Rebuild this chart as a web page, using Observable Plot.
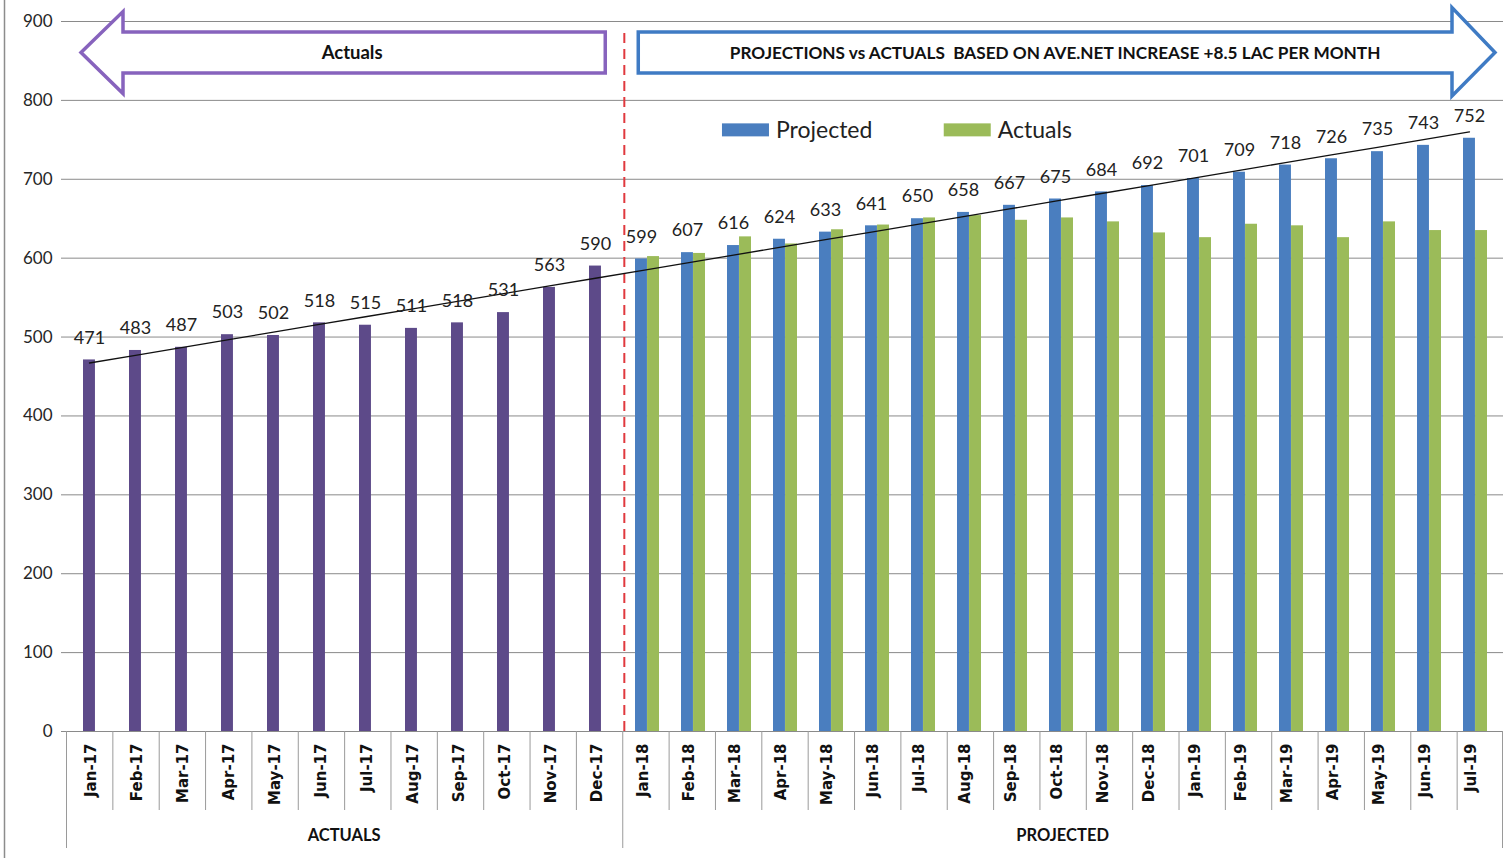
<!DOCTYPE html>
<html><head><meta charset="utf-8">
<script src="https://cdn.jsdelivr.net/npm/d3@7"></script>
<script src="https://cdn.jsdelivr.net/npm/@observablehq/plot@0.6"></script>
<style>
body{margin:0;background:#fff;}
#wrap{position:relative;width:1503px;height:858px;overflow:hidden;}
</style></head><body><div id="wrap"></div>
<script>
// ---- data ----
const actualMonths = ["Jan-17","Feb-17","Mar-17","Apr-17","May-17","Jun-17","Jul-17","Aug-17","Sep-17","Oct-17","Nov-17","Dec-17"];
const actualValues = [471,483,487,503,502,518,515,511,518,531,563,590];
const projMonths = ["Jan-18","Feb-18","Mar-18","Apr-18","May-18","Jun-18","Jul-18","Aug-18","Sep-18","Oct-18","Nov-18","Dec-18","Jan-19","Feb-19","Mar-19","Apr-19","May-19","Jun-19","Jul-19"];
const projectedValues = [599,607,616,624,633,641,650,658,667,675,684,692,701,709,718,726,735,743,752];
const projActualValues = [602,606,627,618,636,642,651,654,648,651,646,632,626,643,641,626,646,635,635];
const yTicks = [0,100,200,300,400,500,600,700,800,900];
const groupLabels = ["ACTUALS","PROJECTED"];
const arrowTexts = ["Actuals","PROJECTIONS vs ACTUALS  BASED ON AVE.NET INCREASE +8.5 LAC PER MONTH"];
const legendLabels = ["Projected","Actuals"];

// ---- colours ----
const cPurple = "#5d4a89", cBlue = "#4a7ebf", cGreen = "#9bbb59";

// ---- derived tables ----
const months = actualMonths.concat(projMonths);
const purple = actualMonths.map((m,i)=>({month:m, value:actualValues[i]}));
const blue = projMonths.map((m,i)=>({month:m, value:projectedValues[i]}));
const green = projMonths.map((m,i)=>({month:m, value:projActualValues[i]}));
const series = actualValues.concat(projectedValues);
const n = series.length, mx = (n-1)/2, my = d3.mean(series);
const slope = d3.sum(series,(v,i)=>(i-mx)*(v-my)) / d3.sum(series,(v,i)=>(i-mx)**2);
const trend = months.map((m,i)=>({month:m, value: my + slope*(i-mx)}));

const W=1503, H=858, ML=66, MR=0, MT=21, MB=127;
const step = (W-ML-MR)/months.length;
const bw = step*0.52;
const labelFont = "Lato, 'Open Sans', sans-serif";

const chart = Plot.plot({
  width:W, height:H, marginLeft:ML, marginRight:MR, marginTop:MT, marginBottom:MB,
  style:{fontFamily:labelFont, background:"transparent", overflow:"visible"},
  x:{domain:months, paddingInner:0.48, paddingOuter:0.24, axis:null, label:null},
  y:{domain:[0,900], axis:null, label:null},
  marks:[
    Plot.ruleY(yTicks, {stroke:"#8a8a8a", strokeWidth:1, insetLeft:-5}),
    Plot.text(yTicks, {y:d=>d, text:d=>String(d), frameAnchor:"left", textAnchor:"end", dx:-14, fontSize:17, fill:"#262626"}),
    Plot.barY(purple, {x:"month", y:"value", fill:cPurple, insetRight:bw/2}),
    Plot.barY(blue, {x:"month", y:"value", fill:cBlue, insetRight:bw/2}),
    Plot.barY(green, {x:"month", y:"value", fill:cGreen, insetLeft:bw/2}),
    Plot.ruleX(["Jan-18"], {x:d=>d, y1:0, y2:889, dx:-step/2, stroke:"#e0393e", strokeWidth:2, strokeDasharray:"10,6"}),
    Plot.line(trend, {x:"month", y:"value", dx:-bw/4, stroke:"#111", strokeWidth:1.3}),
    Plot.text(purple, {x:"month", y:"value", text:d=>String(d.value), dx:-bw/4, dy:-22, fontSize:18, fill:"#222"}),
    Plot.text(blue, {x:"month", y:"value", text:d=>String(d.value), dx:-bw/4, dy:-22, fontSize:18, fill:"#222"}),
    Plot.text(months, {x:d=>d, text:d=>d, frameAnchor:"bottom", rotate:-90, textAnchor:"end", dy:12,
      fontSize:15, fontWeight:"bold", fontFamily:"'DejaVu Sans', Verdana, sans-serif", fill:"#111"})
  ]
});
document.getElementById("wrap").appendChild(chart);

// ---- annotations drawn with the plot's own scales ----
const svg = d3.select(chart);
const sx = chart.scale("x"), sy = chart.scale("y");
const [r0, r1] = sx.range;
const st = (r1 - r0) / months.length;
const boundary = i => r0 + i*st;
const y0 = sy.apply(0);
const g = svg.append("g").attr("text-anchor","start");

// left chart frame
g.append("line").attr("x1",4.5).attr("x2",4.5).attr("y1",0).attr("y2",H).attr("stroke","#8c8c8c").attr("stroke-width",1.5);

// category separators
for (let i=0;i<=months.length;i++){
  const isGroup = (i===0 || i===actualMonths.length || i===months.length);
  const x = Math.min(boundary(i), W-1) + 0.5;
  g.append("line").attr("x1",x).attr("x2",x).attr("y1",y0).attr("y2", isGroup ? y0+117 : y0+79)
   .attr("stroke","#9a9a9a").attr("stroke-width",1);
}
// group labels
const groups = [[0, actualMonths.length],[actualMonths.length, months.length]];
groups.forEach(([a,b],k)=>{
  g.append("text").attr("x",(boundary(a)+boundary(b))/2).attr("y",y0+110)
   .attr("text-anchor","middle").attr("font-family",labelFont).attr("font-weight","bold")
   .attr("font-size",16.5).attr("fill","#111").text(groupLabels[k]);
});

// arrows
const yBodyTop = sy.apply(886), yBodyBot = sy.apply(834), yMid = sy.apply(860);
const yHeadTop = sy.apply(912), yHeadBot = sy.apply(808);
{
  const tip = boundary(0)+15, base = tip+42, end = boundary(actualMonths.length)-17;
  const pts = [[tip,yMid],[base,yHeadTop],[base,yBodyTop],[end,yBodyTop],[end,yBodyBot],[base,yBodyBot],[base,yHeadBot]];
  g.append("path").attr("d","M"+pts.map(p=>p.join(",")).join("L")+"Z")
   .attr("fill","#fff").attr("stroke","#8763bd").attr("stroke-width",3.5).attr("stroke-linejoin","miter");
  g.append("text").attr("x",(base+end)/2 - 12).attr("y",yMid).attr("dy","0.35em").attr("text-anchor","middle")
   .attr("font-family",labelFont).attr("font-weight","bold").attr("font-size",18.5).attr("fill","#111").text(arrowTexts[0]);
}
{
  const start = boundary(actualMonths.length)+16, tip = boundary(months.length)-8, base = tip-43;
  const yHT = sy.apply(917), yHB = sy.apply(805);
  const pts = [[start,yBodyTop],[base,yBodyTop],[base,yHT],[tip,yMid],[base,yHB],[base,yBodyBot],[start,yBodyBot]];
  g.append("path").attr("d","M"+pts.map(p=>p.join(",")).join("L")+"Z")
   .attr("fill","#fff").attr("stroke","#3f7bc4").attr("stroke-width",3.5).attr("stroke-linejoin","miter");
  g.append("text").attr("x",(start+base)/2 + 10).attr("y",yMid).attr("dy","0.35em").attr("text-anchor","middle")
   .attr("font-family",labelFont).attr("font-weight","bold").attr("font-size",17.2).attr("fill","#111").text(arrowTexts[1]);
}

// legend (inside the plot, as in the reference)
const legendColors = [cBlue, cGreen];
const legX = [boundary(14)+7, boundary(19)-3];
legendLabels.forEach((lab,k)=>{
  const lx = legX[k], ly = sy.apply(762);
  g.append("rect").attr("x",lx).attr("y",ly-6.5).attr("width",47).attr("height",13).attr("fill",legendColors[k]);
  g.append("text").attr("x",lx+54).attr("y",ly).attr("dy","0.35em").attr("text-anchor","start").attr("font-family",labelFont)
   .attr("font-size",23).attr("fill","#222").text(lab);
});
</script>
</body></html>
